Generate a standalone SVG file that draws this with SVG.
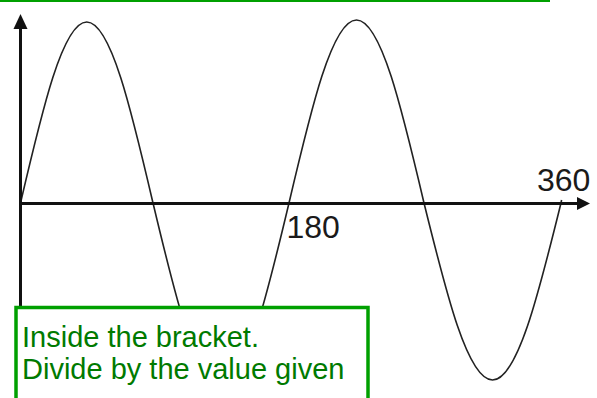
<svg xmlns="http://www.w3.org/2000/svg" width="597" height="398" viewBox="0 0 597 398">
<style>
.axis{stroke:#111;stroke-width:3;fill:none}
.head{fill:#111}
.wave{stroke:#222;stroke-width:1.6;fill:none}
.num{font-family:"Liberation Sans",Arial,sans-serif;font-size:32px;fill:#1a1a1a}
.note{font-family:"Liberation Sans",Arial,sans-serif;font-size:29px;fill:#007a00}
.box{fill:#fff;stroke:#00a000;stroke-width:3.5}
</style>
<rect width="597" height="398" fill="#fff"/>
<rect id="topline" x="0" y="0" width="550" height="2" fill="#00a000"/>
<g id="wave">
<path class="wave" d="M20.5,203 C42.12,110.22 62.78,22 86.75,22 C110.72,22 131.38,110.22 153,203 C175.19,296.29 196.39,385 221,385 C245.61,385 266.81,296.29 289,203 C311.03,109.2 332.07,20 356.5,20 C380.93,20 401.97,109.2 424,203 C446.35,293.73 467.71,380 492.5,380 C517.29,380 538.65,293.73 561,203 L561.6,200"/>
</g>
<g id="connectors">
<line class="axis" x1="20.5" y1="28" x2="20.5" y2="398"/>
<polygon class="head" points="13.5,29 20.5,14 27.5,29"/>
<line class="axis" x1="19" y1="203.5" x2="579" y2="203.5"/>
<polygon class="head" points="577,197 590,203.5 577,210"/>
</g>
<g id="label-360"><text class="num" x="537" y="190.5">360</text></g>
<g id="label-180"><text class="num" x="286.5" y="238">180</text></g>
<g id="note">
<rect class="box" x="16" y="307.5" width="352" height="100"/>
<text class="note" x="22" y="346.5">Inside the bracket.</text>
<text class="note" x="22" y="378.5">Divide by the value given</text>
</g>
</svg>
